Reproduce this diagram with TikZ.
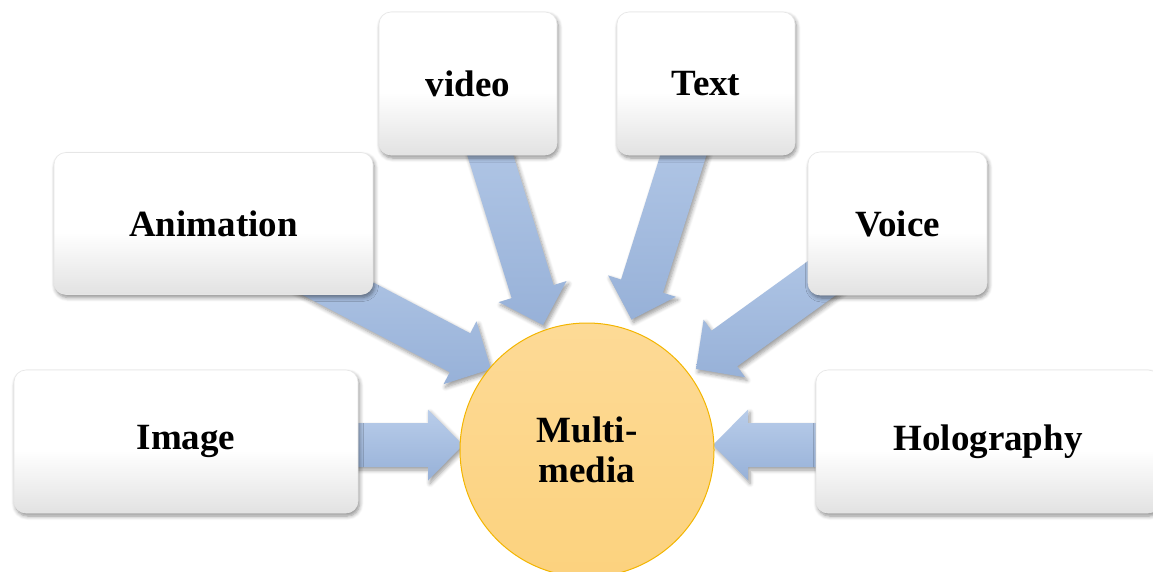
\documentclass[tikz,border=0pt]{standalone}
\usepackage{fontspec}
\setmainfont{Liberation Serif}
\usetikzlibrary{calc,shadows.blur}

\definecolor{arrowtop}{HTML}{B9CDEA}
\definecolor{arrowbot}{HTML}{97B1D8}
\definecolor{boxbot}{HTML}{E2E2E2}
\definecolor{boxedge}{HTML}{E6E6E6}
\definecolor{hubtop}{HTML}{FDDA96}
\definecolor{hubbot}{HTML}{FCD27E}
\definecolor{hubedge}{HTML}{F3B500}

% white face fading to light grey near the bottom edge
\pgfdeclareverticalshading{boxshade}{100bp}{color(0bp)=(boxbot); color(25bp)=(boxbot); color(47bp)=(white); color(100bp)=(white)}

\tikzset{
  label font/.style={font=\bfseries\fontsize{37}{40}\selectfont},
  mediabox/.style={rectangle, rounded corners=12pt, draw=boxedge, line width=0.6pt,
    shading=boxshade, inner sep=0pt, label font,
    blur shadow={shadow xshift=1.5pt, shadow yshift=-3pt, shadow blur steps=6, shadow opacity=45, shadow blur radius=4pt}},
  hub/.style={circle, minimum size=254pt, inner sep=0pt, draw=hubedge, line width=1pt,
    top color=hubtop, bottom color=hubbot, align=center, label font},
  flowarrow/.style={top color=arrowtop, bottom color=arrowbot, draw=none,
    blur shadow={shadow xshift=2pt, shadow yshift=-3pt, shadow blur steps=6, shadow opacity=40, shadow blur radius=4pt}},
}

% block arrow from #1 to its tip #2
\newcommand\blockarrow[2]{%
  \coordinate (ba-base) at ($(#2)!35pt!(#1)$);
  \path[flowarrow]
    ($(#1)!22pt!90:(#2)$) -- ($(ba-base)!22pt!90:(#2)$) -- ($(ba-base)!35.5pt!90:(#2)$)
    -- (#2)
    -- ($(ba-base)!35.5pt!-90:(#2)$) -- ($(ba-base)!22pt!-90:(#2)$) -- ($(#1)!22pt!-90:(#2)$) -- cycle;
}

\begin{document}
\begin{tikzpicture}[x=1pt,y=-1pt]
  \useasboundingbox (0,0) rectangle (1153,571);
  \clip (0,0) rectangle (1153,571);

  % anchor points of the six sources and the hub
  \coordinate (c-img)   at (186,445);
  \coordinate (c-holo)  at (988,445);
  \coordinate (c-anim)  at (213.5,223.5);
  \coordinate (c-voice) at (897.5,223.5);
  \coordinate (c-video) at (468,83.5);
  \coordinate (c-text)  at (706,83.5);

  % arrow tips just outside the hub
  \coordinate (t-img)   at (463,445);
  \coordinate (t-holo)  at (713,445);
  \coordinate (t-anim)  at (491,369);
  \coordinate (t-voice) at (696,369);
  \coordinate (t-video) at (543,325);
  \coordinate (t-text)  at (631.5,319.5);

  % arrows, drawn under the boxes
  \blockarrow{c-img}{t-img}
  \blockarrow{c-holo}{t-holo}
  \blockarrow{c-anim}{t-anim}
  \blockarrow{c-voice}{t-voice}
  \blockarrow{c-video}{t-video}
  \blockarrow{c-text}{t-text}

  % source boxes
  \node[mediabox, minimum width=344pt, minimum height=143pt] (img)   at (186,441.5) {Image};
  \node[mediabox, minimum width=344pt, minimum height=143pt] (holo)  at (988,441.5) {Holography};
  \node[mediabox, minimum width=319pt, minimum height=142pt] (anim)  at (213.5,223.5) {Animation};
  \node[mediabox, minimum width=179pt, minimum height=143pt] (voice) at (897.5,223.5) {Voice};
  \node[mediabox, minimum width=178pt, minimum height=143pt] (video) at (468,83.5) {video};
  \node[mediabox, minimum width=178pt, minimum height=143pt] (text)  at (706,83.5) {Text};

  % central hub
  \node[hub] (media) at (587,450) {Multi-\\media};
\end{tikzpicture}
\end{document}
